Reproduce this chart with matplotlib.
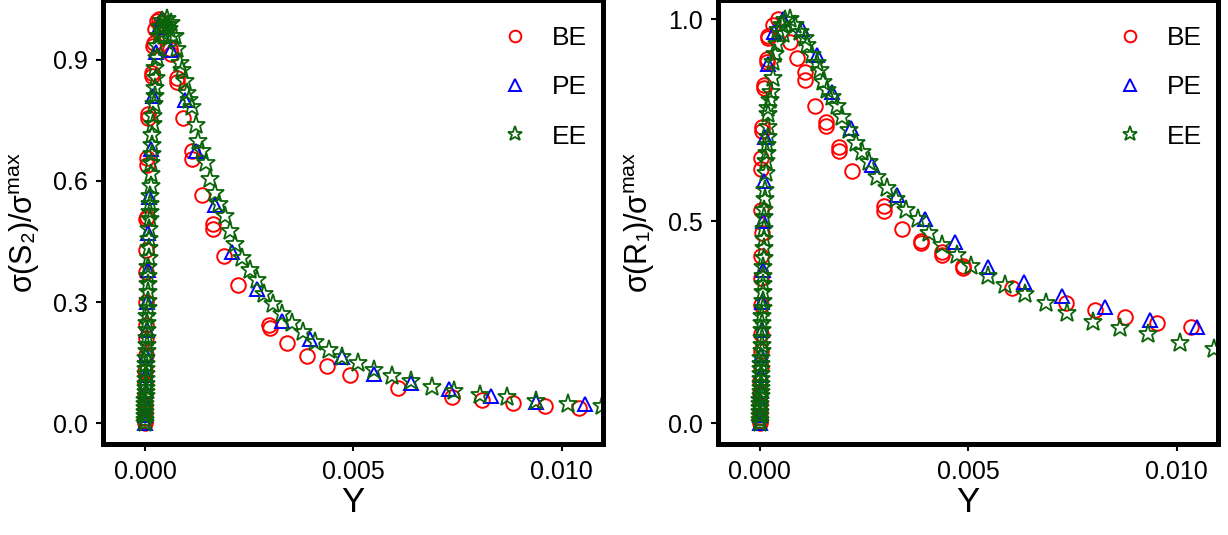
import matplotlib

matplotlib.use("Agg")
import matplotlib.pyplot as plt
from matplotlib.ticker import FormatStrFormatter

plt.rcParams["font.family"] = ["Liberation Sans", "DejaVu Sans"]
plt.rcParams["mathtext.fontset"] = "custom"
plt.rcParams["mathtext.rm"] = "Liberation Sans"

# wall distance Y is stored in units of 1e-3
# --- left panel: sigma(S2) / sigma_max ---
be_s2_y = [0.000, 0.000, 0.002, 0.004, 0.006, 0.008, 0.010, 0.012, 0.015, 0.018,
           0.020, 0.025, 0.028, 0.032, 0.035, 0.040, 0.045, 0.050, 0.080, 0.085,
           0.160, 0.165, 0.200, 0.210, 0.250, 0.280, 0.330, 0.380,
           0.600, 0.620, 0.760, 0.770, 0.920, 1.130, 1.130, 1.370, 1.630, 1.630,
           1.900, 2.240, 2.980, 2.990, 3.420, 3.890, 4.380, 4.910, 6.070, 7.370,
           8.090, 8.830, 9.600, 10.420]
be_s2_v = [0.000, 0.005, 0.012, 0.025, 0.045, 0.070, 0.100, 0.130, 0.170, 0.210,
           0.244, 0.300, 0.374, 0.430, 0.505, 0.510, 0.640, 0.658, 0.757, 0.765,
           0.860, 0.868, 0.935, 0.942, 0.975, 0.995, 1.000, 0.990,
           0.926, 0.915, 0.856, 0.846, 0.757, 0.674, 0.655, 0.564, 0.493, 0.480,
           0.413, 0.342, 0.243, 0.235, 0.198, 0.167, 0.142, 0.119, 0.087, 0.064,
           0.057, 0.050, 0.043, 0.038]

pe_s2_y = [0.000, 0.005, 0.010, 0.015, 0.022, 0.030, 0.040, 0.052, 0.066, 0.082,
           0.100, 0.140, 0.200, 0.260, 0.330, 0.420, 0.620, 0.950, 1.220, 1.680,
           2.100, 2.690, 3.300, 3.950, 4.720, 5.500, 6.390, 7.300, 8.310, 9.380,
           10.550]
pe_s2_v = [0.000, 0.020, 0.050, 0.080, 0.120, 0.170, 0.230, 0.300, 0.380, 0.470,
           0.560, 0.680, 0.810, 0.920, 0.980, 1.000, 0.925, 0.800, 0.675, 0.540,
           0.425, 0.332, 0.253, 0.208, 0.163, 0.121, 0.101, 0.084, 0.068, 0.053,
           0.047]

ee_s2_y = [0.000, 0.002, 0.004, 0.006, 0.008, 0.010, 0.012, 0.014, 0.016, 0.018,
           0.020, 0.023, 0.026, 0.029, 0.032, 0.035, 0.039, 0.043, 0.047, 0.051,
           0.055, 0.059, 0.063, 0.067, 0.071, 0.075, 0.080, 0.085, 0.090, 0.095,
           0.100, 0.106, 0.112, 0.118, 0.124, 0.130, 0.137, 0.144, 0.152, 0.160,
           0.170, 0.180, 0.190, 0.200, 0.215, 0.230, 0.250, 0.265, 0.240, 0.280,
           0.290, 0.330, 0.360, 0.400, 0.420, 0.450, 0.480, 0.520, 0.550, 0.580,
           0.620, 0.660, 0.720, 0.780, 0.830, 0.880, 0.960, 1.020, 1.060, 1.130,
           1.230, 1.280, 1.370, 1.470, 1.570, 1.690, 1.780, 1.920, 2.030, 2.170,
           2.330, 2.530, 2.680, 2.860, 3.080, 3.300, 3.540, 3.800, 4.090, 4.410,
           4.740, 5.110, 5.490, 5.920, 6.390, 6.890, 7.420, 8.030, 8.680, 9.380,
           10.160, 10.960]
ee_s2_v = [0.000, 0.008, 0.018, 0.028, 0.038, 0.048, 0.058, 0.068, 0.078, 0.088,
           0.098, 0.110, 0.122, 0.135, 0.148, 0.162, 0.178, 0.195, 0.212, 0.230,
           0.248, 0.266, 0.285, 0.304, 0.324, 0.344, 0.365, 0.387, 0.410, 0.433,
           0.457, 0.481, 0.505, 0.522, 0.543, 0.563, 0.588, 0.616, 0.645, 0.666,
           0.690, 0.715, 0.740, 0.760, 0.790, 0.810, 0.830, 0.855, 0.880, 0.905,
           0.934, 0.960, 0.980, 0.970, 0.995, 0.960, 0.985, 1.000, 0.985, 0.975,
           0.990, 0.960, 0.958, 0.927, 0.893, 0.875, 0.847, 0.817, 0.800, 0.784,
           0.738, 0.699, 0.674, 0.645, 0.604, 0.571, 0.542, 0.514, 0.476, 0.443,
           0.410, 0.380, 0.356, 0.319, 0.296, 0.270, 0.248, 0.226, 0.202, 0.181,
           0.164, 0.149, 0.131, 0.117, 0.104, 0.091, 0.080, 0.069, 0.064, 0.055,
           0.049, 0.043]

# --- right panel: sigma(R1) / sigma_max ---
be_r1_y = [0.000, 0.000, 0.002, 0.004, 0.006, 0.008, 0.010, 0.014, 0.018, 0.022,
           0.028, 0.034, 0.036, 0.040, 0.020, 0.030, 0.030, 0.040, 0.040, 0.100,
           0.100, 0.160, 0.160, 0.200, 0.200, 0.320, 0.430, 0.730, 0.890, 1.090,
           1.090, 1.330, 1.590, 1.590, 1.900, 1.900, 2.220, 2.970, 2.970, 3.410,
           3.860, 3.860, 4.360, 4.360, 4.880, 4.880, 6.050, 7.340, 8.030, 8.770,
           9.540, 10.350]
be_r1_v = [0.000, 0.006, 0.015, 0.030, 0.050, 0.075, 0.105, 0.140, 0.178, 0.220,
           0.294, 0.360, 0.413, 0.470, 0.528, 0.630, 0.657, 0.724, 0.734, 0.830,
           0.837, 0.895, 0.903, 0.955, 0.960, 0.985, 1.000, 0.944, 0.905, 0.870,
           0.850, 0.785, 0.746, 0.737, 0.685, 0.675, 0.625, 0.537, 0.525, 0.481,
           0.446, 0.452, 0.417, 0.423, 0.384, 0.390, 0.335, 0.298, 0.281, 0.263,
           0.249, 0.239]

pe_r1_y = [0.000, 0.005, 0.010, 0.015, 0.022, 0.030, 0.040, 0.052, 0.066, 0.082,
           0.100, 0.130, 0.200, 0.330, 0.550, 1.000, 1.370, 1.740, 2.180, 2.700,
           3.290, 3.950, 4.680, 5.470, 6.340, 7.260, 8.270, 9.350, 10.480]
pe_r1_v = [0.000, 0.020, 0.050, 0.080, 0.120, 0.170, 0.230, 0.300, 0.380, 0.500,
           0.600, 0.710, 0.890, 0.970, 1.000, 0.977, 0.911, 0.820, 0.730, 0.640,
           0.565, 0.505, 0.448, 0.388, 0.349, 0.314, 0.287, 0.255, 0.239]

ee_r1_y = [0.000, 0.002, 0.004, 0.006, 0.008, 0.010, 0.012, 0.014, 0.016, 0.018,
           0.020, 0.023, 0.026, 0.029, 0.032, 0.035, 0.039, 0.043, 0.047, 0.051,
           0.055, 0.059, 0.063, 0.067, 0.071, 0.075, 0.080, 0.085, 0.090, 0.095,
           0.100, 0.105, 0.100, 0.105, 0.120, 0.120, 0.140, 0.150, 0.160, 0.175,
           0.185, 0.190, 0.200, 0.200, 0.240, 0.270, 0.320, 0.320, 0.360, 0.400,
           0.440, 0.550, 0.530, 0.600, 0.730, 0.850, 0.970, 1.090, 1.130, 1.250,
           1.370, 1.450, 1.510, 1.610, 1.740, 1.860, 1.980, 2.140, 2.300, 2.460,
           2.620, 2.820, 3.050, 3.270, 3.510, 3.790, 4.050, 4.370, 4.720, 5.070,
           5.470, 5.890, 6.350, 6.860, 7.380, 7.990, 8.640, 9.320, 10.090, 10.900]
ee_r1_v = [0.000, 0.008, 0.018, 0.028, 0.038, 0.048, 0.058, 0.068, 0.078, 0.088,
           0.098, 0.110, 0.122, 0.135, 0.148, 0.162, 0.178, 0.195, 0.212, 0.230,
           0.248, 0.266, 0.285, 0.304, 0.324, 0.344, 0.365, 0.387, 0.410, 0.433,
           0.457, 0.480, 0.510, 0.528, 0.556, 0.578, 0.619, 0.650, 0.668, 0.690,
           0.710, 0.734, 0.765, 0.780, 0.800, 0.820, 0.854, 0.895, 0.915, 0.940,
           0.973, 0.965, 0.985, 0.998, 1.000, 0.985, 0.969, 0.955, 0.936, 0.911,
           0.892, 0.874, 0.845, 0.826, 0.808, 0.785, 0.759, 0.726, 0.695, 0.672,
           0.648, 0.609, 0.582, 0.555, 0.528, 0.505, 0.472, 0.442, 0.417, 0.390,
           0.365, 0.343, 0.319, 0.298, 0.272, 0.250, 0.236, 0.222, 0.199, 0.184]

series_labels = ["BE", "PE", "EE"]
panels = [
    ("σ(S₂)/σ$^{\\mathrm{max}}$", [0.0, 0.3, 0.6, 0.9],
     [(be_s2_y, be_s2_v), (pe_s2_y, pe_s2_v), (ee_s2_y, ee_s2_v)]),
    ("σ(R₁)/σ$^{\\mathrm{max}}$", [0.0, 0.5, 1.0],
     [(be_r1_y, be_r1_v), (pe_r1_y, pe_r1_v), (ee_r1_y, ee_r1_v)]),
]

styles = [
    dict(marker="o", color="#ff0000", markersize=10.5, markeredgewidth=1.4),
    dict(marker="^", color="#0000ff", markersize=10, markeredgewidth=1.4),
    dict(marker="*", color="#0a640a", markersize=14, markeredgewidth=1.3),
]

fig = plt.figure(figsize=(12.28, 5.35), dpi=100)
positions = [[0.0841, 0.1695, 0.4072, 0.8305], [0.5849, 0.1695, 0.4072, 0.8305]]

for pos, (ylabel, yticks, data) in zip(positions, panels):
    ax = fig.add_axes(pos)
    for (ys, vs), label, st in zip(data, series_labels, styles):
        ax.plot([y * 1e-3 for y in ys], vs, linestyle="none",
                markerfacecolor="none", markeredgecolor=st["color"],
                marker=st["marker"], markersize=st["markersize"],
                markeredgewidth=st["markeredgewidth"], label=label)
    ax.set_xlim(-0.001, 0.011)
    ax.set_ylim(-0.052, 1.048)
    ax.set_xticks([0.0, 0.005, 0.010])
    ax.set_yticks(yticks)
    ax.xaxis.set_major_formatter(FormatStrFormatter("%.3f"))
    ax.yaxis.set_major_formatter(FormatStrFormatter("%.1f"))
    for sp in ax.spines.values():
        sp.set_linewidth(3.6)
    ax.tick_params(direction="out", length=5, width=1.5, labelsize=18, pad=6)
    ax.set_xlabel("Y", fontsize=25, labelpad=2)
    ax.set_ylabel(ylabel, fontsize=22, labelpad=8)
    ax.legend(loc="upper right", bbox_to_anchor=(1.02, 1.0), frameon=False,
              fontsize=19, markerscale=0.8, handlelength=1.0,
              handletextpad=0.9, labelspacing=0.95, borderaxespad=0.6)

fig.savefig("out.png", dpi=100)
plt.close(fig)
